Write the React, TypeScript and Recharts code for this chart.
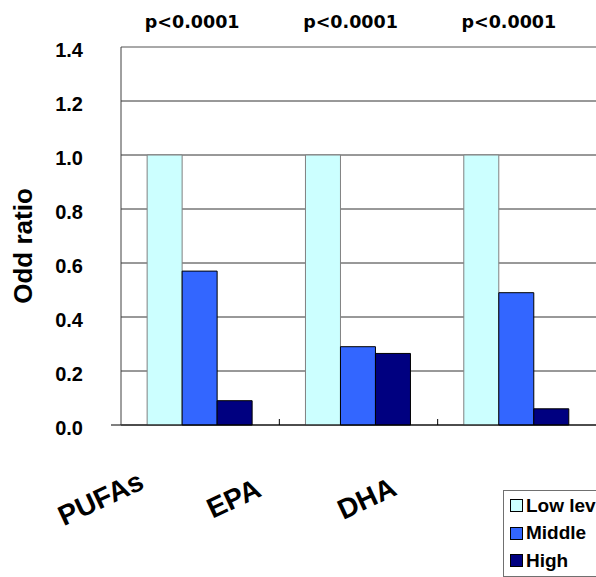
import React from 'react';
import { BarChart, Bar, XAxis, YAxis, CartesianGrid, ReferenceLine, Legend } from 'recharts';

const categories = ['PUFAs', 'EPA', 'DHA'];
const lowValues = [1.0, 1.0, 1.0];
const middleValues = [0.57, 0.29, 0.49];
const highValues = [0.09, 0.265, 0.06];
const pLabels = ['p<0.0001', 'p<0.0001', 'p<0.0001'];
const yTicks = [0, 0.2, 0.4, 0.6, 0.8, 1.0, 1.2, 1.4];
const seriesNames = ['Low level', 'Middle', 'High'];
const seriesColors = ['#CCFFFF', '#3366FF', '#000080'];
const seriesStrokes = ['#808080', '#000000', '#000000'];

const data = categories.map((c, i) => ({
  category: c,
  low: lowValues[i],
  middle: middleValues[i],
  high: highValues[i],
}));

const WIDTH = 596;
const HEIGHT = 577;
const YAXIS_W = 121;
const TOP_H = 47;
const BOTTOM_H = 152;
const BAND = (WIDTH - YAXIS_W) / categories.length;
const FONT = '"Liberation Sans", Arial, sans-serif';

const YTick = (props: any) => {
  const { x, y, payload } = props;
  return (
    <g>
      {payload.value === 0 && (
        <line x1={x + 28} x2={x + 38} y1={y} y2={y} stroke="#000" strokeWidth={1} />
      )}
      <text x={x} y={y + 10} textAnchor="end" fontFamily={FONT} fontWeight="bold" fontSize={20} fill="#000">
        {Number(payload.value).toFixed(1)}
      </text>
    </g>
  );
};

const XTick = (props: any) => {
  const { x, y, payload, index } = props;
  const mid = YAXIS_W + BAND * 1.5;
  const cx = mid - 125 + (x - mid) * 0.84;
  const cy = y + 73;
  return (
    <g>
      {index > 0 && (
        <line x1={x - BAND / 2} x2={x - BAND / 2} y1={y - 6} y2={y} stroke="#000" strokeWidth={1} />
      )}
      <text
        x={cx}
        y={cy + 10}
        textAnchor="middle"
        transform={`rotate(-25 ${cx} ${cy})`}
        fontFamily={FONT}
        fontWeight="bold"
        fontSize={28}
        fill="#000"
      >
        {payload.value}
      </text>
    </g>
  );
};

const PTick = (props: any) => {
  const { x, y, index } = props;
  return (
    <text x={x - 8} y={y - 19} textAnchor="middle" fontFamily='"DejaVu Sans", sans-serif' fontWeight="bold" fontSize={17.5} fill="#000">
      {pLabels[index]}
    </text>
  );
};

const LegendContent = () => (
  <div
    style={{
      border: '1px solid #707070',
      background: '#fff',
      width: 130,
      height: 87,
      boxSizing: 'border-box',
      paddingTop: 1,
      fontFamily: FONT,
      fontWeight: 'bold',
      fontSize: 19,
      color: '#000',
    }}
  >
    {seriesNames.map((n, i) => (
      <div key={n} style={{ display: 'flex', alignItems: 'center', height: 27.5 }}>
        <div
          style={{
            width: 13,
            height: 13,
            marginLeft: 6,
            marginRight: 3,
            background: seriesColors[i],
            border: '1px solid #000',
            boxSizing: 'border-box',
          }}
        />
        <span style={{ whiteSpace: 'nowrap' }}>{n}</span>
      </div>
    ))}
  </div>
);

export default function App() {
  return (
    <div style={{ position: 'absolute', left: 0, top: 0, width: WIDTH, height: HEIGHT, overflow: 'hidden', background: '#fff' }}>
      <BarChart
        width={WIDTH}
        height={HEIGHT}
        data={data}
        margin={{ top: 0, right: 0, bottom: 0, left: 0 }}
        barCategoryGap="16.5%"
        barGap={0}
      >
        <CartesianGrid vertical={false} stroke="#333" strokeWidth={1} />
        <XAxis
          dataKey="category"
          height={BOTTOM_H}
          tickLine={false}
          tickSize={0}
          tickMargin={0}
          axisLine={{ stroke: '#000', strokeWidth: 1 }}
          tick={<XTick />}
          interval={0}
        />
        <XAxis
          xAxisId="top"
          dataKey="category"
          orientation="top"
          height={TOP_H}
          tickLine={false}
          tickSize={0}
          tickMargin={0}
          axisLine={false}
          tick={<PTick />}
          interval={0}
        />
        <YAxis
          width={YAXIS_W}
          domain={[0, 1.4]}
          ticks={yTicks}
          interval={0}
          tickLine={false}
          tickSize={0}
          tickMargin={38}
          axisLine={{ stroke: '#404040', strokeWidth: 1 }}
          tick={<YTick />}
          label={(p: any) => {
            const vb = p.viewBox || { x: 0, y: TOP_H, width: YAXIS_W, height: HEIGHT - TOP_H - BOTTOM_H };
            const cx = vb.x + 32;
            const cy = vb.y + vb.height / 2 + 10;
            return (
              <text
                x={cx}
                y={cy}
                textAnchor="middle"
                transform={`rotate(-90 ${cx} ${cy})`}
                fontFamily={FONT}
                fontWeight="bold"
                fontSize={26}
                fill="#000"
              >
                Odd ratio
              </text>
            );
          }}
        />
        <ReferenceLine y={1.4} stroke="#b8b8b8" strokeWidth={1} ifOverflow="extendDomain" />
        <Bar dataKey="low" name={seriesNames[0]} fill={seriesColors[0]} stroke={seriesStrokes[0]} strokeWidth={1} isAnimationActive={false} />
        <Bar dataKey="middle" name={seriesNames[1]} fill={seriesColors[1]} stroke={seriesStrokes[1]} strokeWidth={1} isAnimationActive={false} />
        <Bar dataKey="high" name={seriesNames[2]} fill={seriesColors[2]} stroke={seriesStrokes[2]} strokeWidth={1} isAnimationActive={false} />
        <Legend
          layout="vertical"
          align="center"
          verticalAlign="middle"
          content={<LegendContent />}
          wrapperStyle={{ left: 503, top: 490, width: 130, height: 87, right: 'auto', bottom: 'auto', margin: 0 }}
        />
      </BarChart>
    </div>
  );
}
